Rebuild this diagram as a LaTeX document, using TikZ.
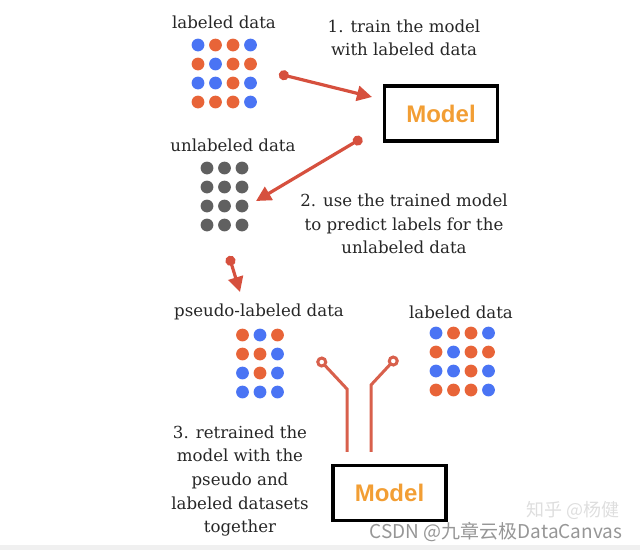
\documentclass[tikz,border=0pt]{standalone}
\usepackage{fontspec}
\setmainfont{DejaVu Serif}
\newfontfamily\modelfont{Liberation Sans}
\newfontfamily\cjkfont{Noto Sans CJK SC}
\usetikzlibrary{positioning, arrows.meta, calc}
\definecolor{DotB}{RGB}{74,116,244}
\definecolor{DotO}{RGB}{232,100,56}
\definecolor{DotG}{RGB}{96,96,96}
\definecolor{ArrowRed}{RGB}{214,80,62}
\definecolor{ConnRed}{RGB}{216,96,76}
\definecolor{ModelOrange}{RGB}{242,158,52}
\definecolor{MarkGray}{RGB}{150,150,150}
\definecolor{MarkLight}{RGB}{222,222,222}
\definecolor{StripGray}{RGB}{240,240,240}
% one grid of data points: x0, y0, number of columns, colour letters
\newcommand{\dotgrid}[4]{%
  \foreach \c [count=\k from 0] in {#4} {
    \pgfmathtruncatemacro\gridrow{int(\k/#3)}
    \pgfmathtruncatemacro\gridcol{mod(\k,#3)}
    \fill[Dot\c] ({#1+\gridcol*17.5},{#2+\gridrow*19}) circle (6.4);
  }}

\begin{document}
\begin{tikzpicture}[x=1pt, y=-1pt,
    label/.style={font=\fontsize{16.6}{23.6}\selectfont, text=black!85, align=center, inner sep=0pt},
    modelbox/.style={draw=black, line width=3.5pt, minimum width=113pt, minimum height=55pt,
      font=\modelfont\bfseries\fontsize{24}{28}\selectfont, text=ModelOrange},
    flow/.style={draw=ArrowRed, line width=3.2pt, {Circle[length=10pt]}-{Triangle[length=15pt,width=15pt]}},
    feed/.style={draw=ConnRed, line width=3pt, {Circle[open,length=11pt]}-}]
  \useasboundingbox (0,0) rectangle (640,550);
  \fill[StripGray] (0,545) rectangle (640,550);

  % data grids
  \dotgrid{198}{45}{4}{B,O,O,B,O,B,O,O,B,B,O,B,O,O,O,B}
  \dotgrid{207}{168}{3}{G,G,G,G,G,G,G,G,G,G,G,G}
  \dotgrid{242.5}{335}{3}{O,B,O,O,O,B,B,O,B,B,B,B}
  \dotgrid{436}{333}{4}{B,O,O,B,O,B,O,O,B,B,O,B,O,O,O,B}

  % titles
  \node[label] (lab1) at (224,22) {labeled data};
  \node[label] (unlab) at (233,145) {unlabeled data};
  \node[label] (pseudo) at (259,312) {pseudo-labeled data};
  \node[label] (lab2) at (461,312) {labeled data};

  % steps
  \node[label] (step1) at (404,38) {1. train the model\\with labeled data};
  \node[label] (step2) at (404,224) {2. use the trained model\\to predict labels for the\\unlabeled data};
  \node[label] (step3) at (240,481) {3. retrained the\\model with the\\pseudo and\\labeled datasets\\together};

  % models
  \node[modelbox] (model1) at (441,113.5) {Model};
  \node[modelbox] (model2) at (389.5,493) {Model};

  % arrows
  \coordinate (a1s) at (279,74);
  \coordinate (a1e) at (372,97);
  \coordinate (a2s) at (362,138);
  \coordinate (a2e) at (256,201);
  \coordinate (a3s) at (229,256);
  \coordinate (a3e) at (240,292);
  \draw[flow] (a1s) -- (a1e);
  \draw[flow] (a2s) -- (a2e);
  \draw[flow] (a3s) -- (a3e);

  % feeding lines into the second model
  \coordinate (f1) at (318,358);
  \coordinate (f2) at (397,357);
  \draw[feed] (f1) -- (347,389) -- ($(model2.north)+(-42.5,-12)$);
  \draw[feed] (f2) -- (371,385) -- ($(model2.north)+(-18.5,-12)$);

  % watermark
  \node[font=\cjkfont\fontsize{18}{22}\selectfont, text=MarkLight, inner sep=0pt] (mark2) at (573,510) {知乎 @杨健};
  \node[font=\cjkfont\fontsize{19}{22}\selectfont, text=MarkGray, inner sep=0pt] (mark1) at (496,532) {CSDN @九章云极DataCanvas};
\end{tikzpicture}
\end{document}
